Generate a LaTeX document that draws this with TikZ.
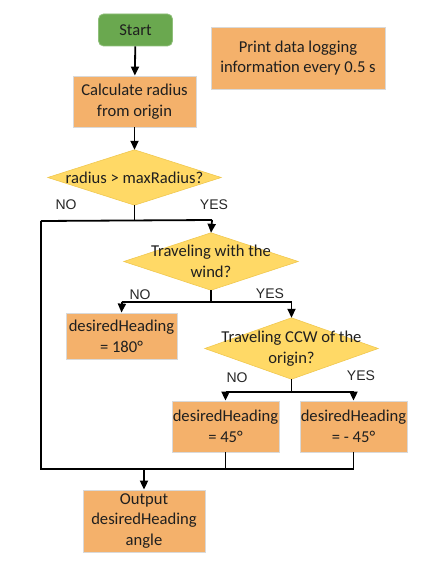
\documentclass[tikz,border=0pt]{standalone}
\usepackage{fontspec}
\setmainfont{Carlito}
\newfontfamily\lblfont{Liberation Sans}
\usetikzlibrary{arrows.meta,backgrounds}
\definecolor{boxorange}{HTML}{F4B16B}
\definecolor{boxedge}{HTML}{D9D9D9}
\definecolor{dyellow}{HTML}{FFD966}
\definecolor{dedge}{HTML}{F0C850}
\definecolor{sgreen}{HTML}{6AA84F}
\definecolor{sedge}{HTML}{8FBF7A}
\tikzset{
  procbox/.style={fill=boxorange,draw=boxedge,line width=0.8pt,align=center,inner sep=0pt,
    font=\fontsize{16.6}{20.8}\selectfont,text=black!88},
  startbox/.style={fill=sgreen,draw=sedge,line width=0.8pt,rounded corners=5pt,align=center,inner sep=0pt,
    font=\fontsize{16.6}{20.8}\selectfont,text=black!88},
  dtext/.style={align=center,inner sep=0pt,font=\fontsize{16.6}{20.8}\selectfont,text=black!88},
  dshape/.style={fill=dyellow,draw=dedge,line width=0.6pt},
  flow/.style={line width=1.8pt,black},
  arr/.style={flow,-{Triangle[length=9pt,width=8pt]}},
  lbl/.style={font=\lblfont\fontsize{14}{16}\selectfont,text=black!85,inner sep=0pt},
}
\begin{document}
\begin{tikzpicture}[x=1pt,y=-1pt]
\useasboundingbox (0,0) rectangle (435,561);
% nodes
\node[startbox,minimum width=74pt,minimum height=32pt] (start) at (135.5,30) {Start};
\node[procbox,minimum width=174pt,minimum height=62pt] (print) at (298,58) {Print data logging\\information every 0.5 s};
\node[procbox,minimum width=123pt,minimum height=51pt] (calc) at (134.5,101.5) {Calculate radius\\from origin};
\node[dtext,minimum width=173pt,minimum height=55pt] (d1) at (134.5,177.5) {radius > maxRadius?};
\node[dtext,minimum width=174pt,minimum height=57pt] (d2) at (211,261.5) {Traveling with the\\wind?};
\node[dtext,minimum width=173pt,minimum height=61pt] (d3) at (291.5,348.5) {Traveling CCW of the\\origin?};
\node[procbox,minimum width=111pt,minimum height=46pt] (h180) at (121.5,336) {desiredHeading\\= 180°};
\node[procbox,minimum width=107pt,minimum height=51pt] (h45) at (225.5,426.5) {desiredHeading\\= 45°};
\node[procbox,minimum width=107pt,minimum height=51pt] (hm45) at (353.5,426.5) {desiredHeading\\= - 45°};
\node[procbox,minimum width=122pt,minimum height=62pt] (out) at (144,521) {Output\\desiredHeading\\angle};
\begin{scope}[on background layer]
\foreach \d in {d1,d2,d3}
  \draw[dshape] (\d.north)--(\d.east)--(\d.south)--(\d.west)--cycle;
\end{scope}
% labels
\node[lbl] (no1) at (66,205) {NO};
\node[lbl] (yes1) at (214,205) {YES};
\node[lbl] (no2) at (140,295) {NO};
\node[lbl] (yes2) at (270,294) {YES};
\node[lbl] (no3) at (237,378) {NO};
\node[lbl] (yes3) at (361,376) {YES};
% junction coordinates
\coordinate (j1) at (134.5,220);
\coordinate (j1l) at (41,221);
\coordinate (j1r) at (212,220);
\coordinate (j2) at (211,302);
\coordinate (j2l) at (122,302);
\coordinate (j2r) at (291.5,302);
\coordinate (j3) at (291.5,392);
\coordinate (j3l) at (225.5,392);
\coordinate (j3r) at (353.5,392);
\coordinate (jb) at (41,469);
\coordinate (jo) at (144,469);
\coordinate (jbr) at (353.5,469);
% connectors
\draw[arr] (start) -- (calc);
\draw[arr] (calc) -- (d1);
\draw[flow] (d1.south) -- (j1);
\draw[flow] (j1l) -- (j1r);
\draw[arr] (j1r) -- (d2.north);
\draw[flow] (j1l) -- (jb) -- (jbr);
\draw[flow] (d2.south) -- (j2);
\draw[flow] (j2l) -- (j2r);
\draw[arr] (j2l) -- (h180.north);
\draw[arr] (j2r) -- (d3.north);
\draw[flow] (d3.south) -- (j3);
\draw[flow] (j3l) -- (j3r);
\draw[arr] (j3l) -- (h45.north);
\draw[arr] (j3r) -- (hm45.north);
\draw[flow] (h45.south) -- (h45.south |- jb);
\draw[flow] (hm45.south) -- (jbr);
\draw[arr] (jo) -- (out.north);
\end{tikzpicture}
\end{document}
